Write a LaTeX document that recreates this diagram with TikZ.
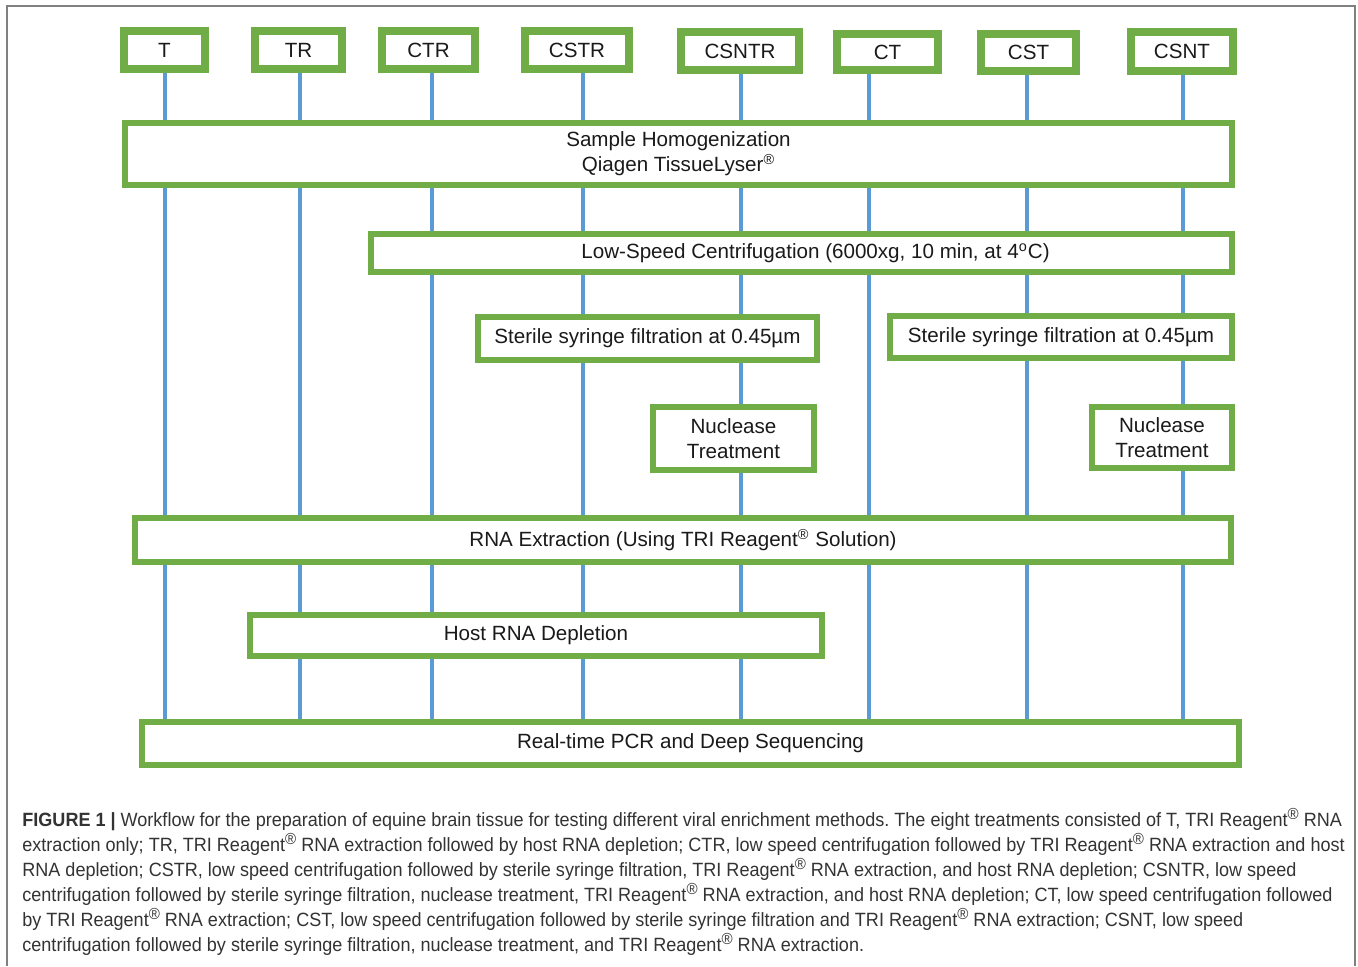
\documentclass[tikz,border=0pt]{standalone}
\usepackage{fontspec}
\setmainfont{Liberation Sans}
\newfontfamily\capfont[FakeStretch=0.94]{Liberation Sans}
\usetikzlibrary{backgrounds}
\frenchspacing
\definecolor{grn}{HTML}{70AD47}
\definecolor{lblue}{HTML}{5B9BD5}
\definecolor{frm}{HTML}{808080}
\definecolor{txt}{HTML}{1A1A1A}
\definecolor{captxt}{HTML}{333333}
\newcommand{\capreg}{\raisebox{0.36em}{\fontsize{8pt}{8pt}\selectfont ®}}
\newcommand{\boxat}[8]{\node[#2, minimum width={(#5-#3-#7)*0.5pt}, minimum height={(#6-#4-#7)*0.5pt}] (#1) at ({(#3+#5)/2},{(#4+#6)/2}) {#8};}
\tikzset{
  gbox/.style={draw=grn, fill=white, inner sep=0pt, align=center, text=txt,
    font=\fontsize{10.3}{12.5}\selectfont},
  topbox/.style={gbox, line width=4pt},
  stepbox/.style={gbox, line width=3pt},
  lane/.style={draw=lblue, line width=1.8pt},
  frame/.style={draw=frm, line width=1pt},
  captext/.style={anchor=base west, inner sep=0pt, text=captxt,
    font=\capfont\fontsize{9.6}{12.5}\selectfont}
}
\begin{document}
\begin{tikzpicture}[x=0.5pt, y=-0.5pt]
\useasboundingbox (0,0) rectangle (1358,966);
% top boxes
\boxat{bT}{topbox}{120}{27}{209}{73}{8}{T}
\boxat{bTR}{topbox}{251}{27}{346}{73}{8}{TR}
\boxat{bCTR}{topbox}{378}{27}{479}{73}{8}{CTR}
\boxat{bCSTR}{topbox}{521}{27}{633}{73}{8}{CSTR}
\boxat{bCSNTR}{topbox}{677}{28}{803}{74}{8}{CSNTR}
\boxat{bCT}{topbox}{833}{30}{942}{74}{8}{CT}
\boxat{bCST}{topbox}{977}{30}{1080}{75}{8}{CST}
\boxat{bCSNT}{topbox}{1127}{28}{1237}{75}{8}{CSNT}
% step boxes
\boxat{hom}{stepbox}{122}{120}{1235}{188}{6}{Sample Homogenization\\Qiagen TissueLyser\textsuperscript{®}}
\boxat{low}{stepbox}{368}{231}{1235}{275}{6}{\hspace*{14pt}Low-Speed Centrifugation (6000xg, 10 min, at 4\textsuperscript{o}C)}
\boxat{ster1}{stepbox}{475}{314}{820}{363}{6}{Sterile syringe filtration at 0.45µm}
\boxat{ster2}{stepbox}{887}{313}{1235}{361}{6}{Sterile syringe filtration at 0.45µm}
\boxat{nuc1}{stepbox}{650}{404}{817}{473}{6}{Nuclease\\Treatment}
\boxat{nuc2}{stepbox}{1089}{404}{1235}{471}{6}{Nuclease\\Treatment}
\boxat{rna}{stepbox}{132}{515}{1234}{565}{6}{RNA Extraction (Using TRI Reagent\textsuperscript{®} Solution)}
\boxat{host}{stepbox}{247}{612}{825}{659}{6}{Host RNA Depletion}
\boxat{pcr}{stepbox}{139}{719}{1242}{768}{6}{Real-time PCR and Deep Sequencing}
% lanes
\coordinate (lT) at (165,0);
\coordinate (lTR) at (300,0);
\coordinate (lCTR) at (432,0);
\coordinate (lCSTR) at (583,0);
\coordinate (lCSNTR) at (741,0);
\coordinate (lCT) at (869,0);
\coordinate (lCST) at (1027,0);
\coordinate (lCSNT) at (1183,0);
\begin{scope}[on background layer]
\fill[white] (0,0) rectangle (1358,966);
\foreach \lanex/\fa/\fb in {
  lT/bT/hom, lT/hom/rna, lT/rna/pcr,
  lTR/bTR/hom, lTR/hom/rna, lTR/rna/host, lTR/host/pcr,
  lCTR/bCTR/hom, lCTR/hom/low, lCTR/low/rna, lCTR/rna/host, lCTR/host/pcr,
  lCSTR/bCSTR/hom, lCSTR/hom/low, lCSTR/low/ster1, lCSTR/ster1/rna, lCSTR/rna/host, lCSTR/host/pcr,
  lCSNTR/bCSNTR/hom, lCSNTR/hom/low, lCSNTR/low/ster1, lCSNTR/ster1/nuc1, lCSNTR/nuc1/rna, lCSNTR/rna/host, lCSNTR/host/pcr,
  lCT/bCT/hom, lCT/hom/low, lCT/low/rna, lCT/rna/pcr,
  lCST/bCST/hom, lCST/hom/low, lCST/low/ster2, lCST/ster2/rna, lCST/rna/pcr,
  lCSNT/bCSNT/hom, lCSNT/hom/low, lCSNT/low/ster2, lCSNT/ster2/nuc2, lCSNT/nuc2/rna, lCSNT/rna/pcr}
  \draw[lane] (\lanex |- \fa.south) -- (\lanex |- \fb.north);
\end{scope}
% frame
\draw[frame] (7,966) -- (7,6) -- (1355,6) -- (1355,966);
% caption
\node[captext] (c1) at (22,826) {\textbf{FIGURE 1 |} Workflow for the preparation of equine brain tissue for testing different viral enrichment methods. The eight treatments consisted of T, TRI Reagent\capreg{} RNA};
\node[captext] (c2) at (22,851) {extraction only; TR, TRI Reagent\capreg{} RNA extraction followed by host RNA depletion; CTR, low speed centrifugation followed by TRI Reagent\capreg{} RNA extraction and host};
\node[captext] (c3) at (22,876) {RNA depletion; CSTR, low speed centrifugation followed by sterile syringe filtration, TRI Reagent\capreg{} RNA extraction, and host RNA depletion; CSNTR, low speed};
\node[captext] (c4) at (22,901) {centrifugation followed by sterile syringe filtration, nuclease treatment, TRI Reagent\capreg{} RNA extraction, and host RNA depletion; CT, low speed centrifugation followed};
\node[captext] (c5) at (22,926) {by TRI Reagent\capreg{} RNA extraction; CST, low speed centrifugation followed by sterile syringe filtration and TRI Reagent\capreg{} RNA extraction; CSNT, low speed};
\node[captext] (c6) at (22,951) {centrifugation followed by sterile syringe filtration, nuclease treatment, and TRI Reagent\capreg{} RNA extraction.};
\end{tikzpicture}
\end{document}
